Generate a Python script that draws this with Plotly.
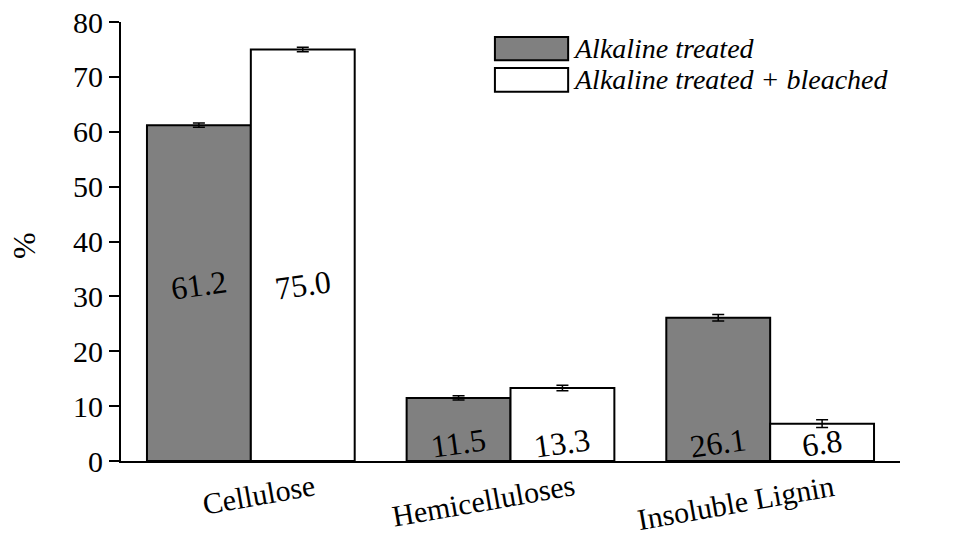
import plotly.graph_objects as go

categories = ["Cellulose", "Hemicelluloses", "Insoluble Lignin"]
series_names = ["Alkaline treated", "Alkaline treated + bleached"]
alk_values = [61.2, 11.5, 26.1]
alk_errors = [0.4, 0.4, 0.6]
bleach_values = [75.0, 13.3, 6.8]
bleach_errors = [0.4, 0.5, 0.7]
y_ticks = [0, 10, 20, 30, 40, 50, 60, 70, 80]

FONT = "Liberation Serif, Times New Roman, serif"
GRAY = "#808080"

fig = go.Figure()
for name, vals, errs, color in [
    (series_names[0], alk_values, alk_errors, GRAY),
    (series_names[1], bleach_values, bleach_errors, "#ffffff"),
]:
    fig.add_trace(go.Bar(
        x=categories, y=vals, name=name,
        marker=dict(color=color, line=dict(color="black", width=2)),
        error_y=dict(type="data", array=errs, visible=True, color="black",
                     thickness=1.5, width=6),
        showlegend=False,
    ))

# value labels inside bars
label_y = {"Cellulose": 32.0, "Hemicelluloses": 3.3, "Insoluble Lignin": 3.3}
for i, cat in enumerate(categories):
    for off, vals in [(-0.2, alk_values), (0.2, bleach_values)]:
        fig.add_annotation(
            x=i + off, y=label_y[cat], xref="x", yref="y",
            text=f"{vals[i]:.1f}", showarrow=False, textangle=-8,
            font=dict(family=FONT, size=32, color="black"),
        )

# category labels (rotated)
for i, cat in enumerate(categories):
    fig.add_annotation(
        x=i + 0.265, y=-0.012, xref="x", yref="paper",
        xanchor="right", yanchor="top",
        text=cat, showarrow=False, textangle=-10,
        font=dict(family=FONT, size=30, color="black"),
    )

# y title
fig.add_annotation(
    x=-0.15, y=0.49, xref="paper", yref="paper",
    text="%", showarrow=False, textangle=-90,
    font=dict(family=FONT, size=32, color="black"),
)

# custom legend
legend_rows = [(0.913, 0.966, GRAY, series_names[0]),
               (0.841, 0.895, "#ffffff", series_names[1])]
for y0, y1, col, name in legend_rows:
    fig.add_shape(type="rect", xref="paper", yref="paper",
                  x0=0.480, x1=0.574, y0=y0, y1=y1,
                  fillcolor=col, line=dict(color="black", width=2))
    fig.add_annotation(
        x=0.578, y=(y0 + y1) / 2, xref="paper", yref="paper",
        xanchor="left", yanchor="middle", showarrow=False,
        text=f"<i>{name}</i>",
        font=dict(family=FONT, size=28, color="black"),
    )

fig.update_layout(
    width=962, height=539,
    margin=dict(l=121, r=62, t=22, b=78, autoexpand=False),
    paper_bgcolor="white", plot_bgcolor="white",
    barmode="group", bargap=0.2, bargroupgap=0,
    font=dict(family=FONT, color="black"),
    xaxis=dict(
        showticklabels=False, ticks="", showgrid=False, zeroline=False,
        showline=True, linecolor="black", linewidth=2,
        range=[-0.5, 2.5], automargin=False,
    ),
    yaxis=dict(
        range=[0, 80], tickvals=y_ticks, ticks="outside", ticklen=10,
        tickwidth=2, tickcolor="black", showgrid=False, zeroline=False,
        showline=True, linecolor="black", linewidth=2, automargin=False,
        tickfont=dict(family=FONT, size=30, color="black"),
    ),
)

fig.write_html("out.html")
